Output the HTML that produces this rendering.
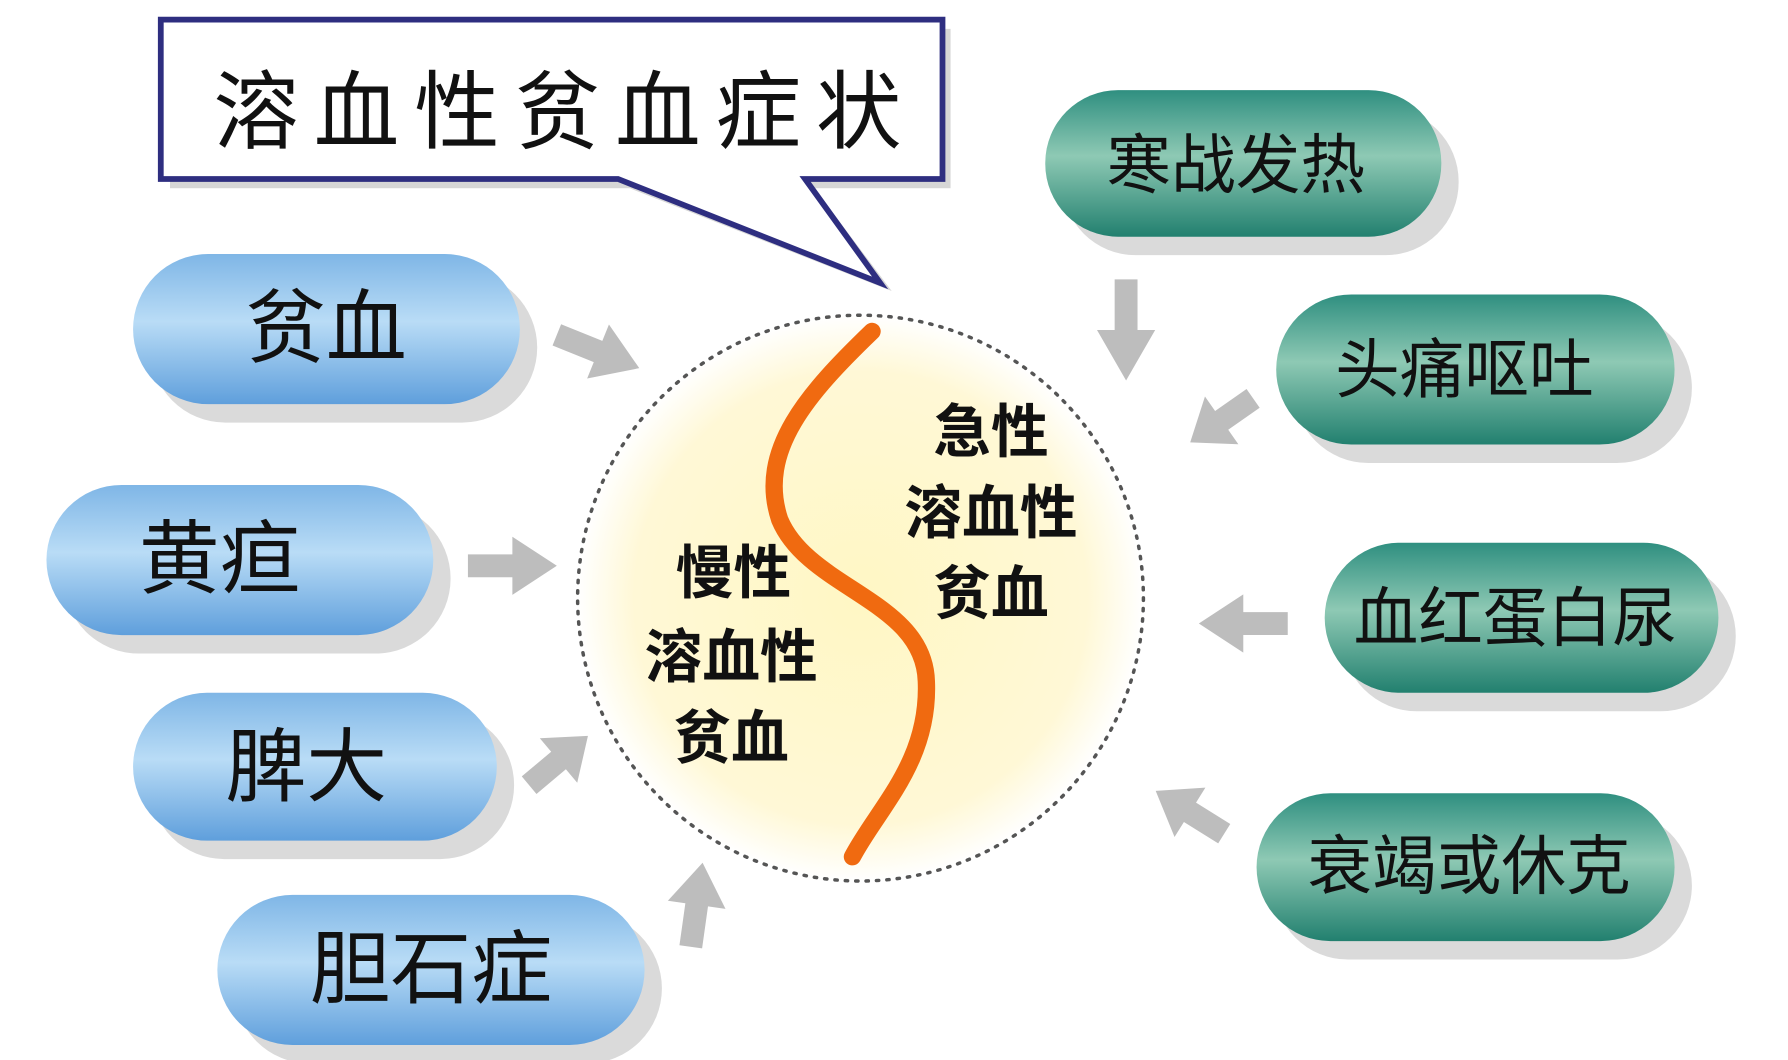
<!DOCTYPE html>
<html><head><meta charset="utf-8"><style>
html,body{margin:0;padding:0;background:#fff;}
svg{display:block;}
text{font-family:"Liberation Sans","Noto Sans CJK SC","WenQuanYi Zen Hei",sans-serif;text-anchor:middle;dominant-baseline:central;fill:#111;}
</style></head><body>
<svg width="1788" height="1060" viewBox="0 0 1548 918" xmlns="http://www.w3.org/2000/svg">
<defs>
<linearGradient id="blue" x1="0" y1="0" x2="0" y2="1">
<stop offset="0" stop-color="#7fb6e6"/><stop offset="0.45" stop-color="#b9dcf6"/><stop offset="1" stop-color="#5f9fdc"/></linearGradient>
<linearGradient id="teal" x1="0" y1="0" x2="0" y2="1">
<stop offset="0" stop-color="#2f8f80"/><stop offset="0.45" stop-color="#8ec9b4"/><stop offset="1" stop-color="#22806f"/></linearGradient>
<radialGradient id="yel" cx="0.5" cy="0.5" r="0.5">
<stop offset="0" stop-color="#fff7c4"/><stop offset="0.8" stop-color="#fff8d6"/><stop offset="1" stop-color="#ffffff"/></radialGradient>
<polygon id="arr" points="0,-11 35,-11 35,-28 70,0 35,28 35,11 0,11" fill="#bdbdbd"/>
</defs>

<rect x="147" y="25" width="676" height="138" fill="#d6d6d6"/>
<polygon points="545,163 705,163 772,252 " fill="#d6d6d6"/>
<polygon points="139,17 816,17 816,155 697,155 762,245 535,155 139,155" fill="#fff" stroke="#2e2e80" stroke-width="5"/>
<text x="489" y="98" font-size="74" letter-spacing="13">溶血性贫血症状</text>

<circle cx="745" cy="518" r="245" fill="url(#yel)" stroke="#555" stroke-width="3" stroke-dasharray="2,7" stroke-linecap="round"/>
<path d="M755,287 C700,340 655,390 675,450 C700,510 800,520 802,590 C805,660 760,700 738,742" fill="none" stroke="#f06a10" stroke-width="15" stroke-linecap="round"/>
<g font-size="50" font-weight="bold">
<text x="635" y="497">慢性</text><text x="633" y="570">溶血性</text><text x="633" y="640">贫血</text>
<text x="858" y="375">急性</text><text x="858" y="445">溶血性</text><text x="858" y="515">贫血</text>
</g>

<g>
<rect x="130" y="236" width="335" height="130" rx="65" fill="#dadada"/>
<rect x="115" y="220" width="335" height="130" rx="65" fill="url(#blue)"/>
<text x="282" y="285" font-size="70">贫血</text>
<rect x="55" y="436" width="335" height="130" rx="65" fill="#dadada"/>
<rect x="40" y="420" width="335" height="130" rx="65" fill="url(#blue)"/>
<text x="190" y="485" font-size="70">黄疸</text>
<rect x="130" y="616" width="315" height="128" rx="64" fill="#dadada"/>
<rect x="115" y="600" width="315" height="128" rx="64" fill="url(#blue)"/>
<text x="265" y="665" font-size="70">脾大</text>
<rect x="203" y="791" width="370" height="130" rx="65" fill="#dadada"/>
<rect x="188" y="775" width="370" height="130" rx="65" fill="url(#blue)"/>
<text x="373" y="840" font-size="70">胆石症</text>
</g>

<g font-size="56">
<rect x="920" y="94" width="343" height="127" rx="63" fill="#dadada"/>
<rect x="905" y="78" width="343" height="127" rx="63" fill="url(#teal)"/>
<text x="1070" y="143">寒战发热</text>
<rect x="1120" y="271" width="345" height="130" rx="65" fill="#dadada"/>
<rect x="1105" y="255" width="345" height="130" rx="65" fill="url(#teal)"/>
<text x="1268" y="320">头痛呕吐</text>
<rect x="1162" y="486" width="341" height="130" rx="65" fill="#dadada"/>
<rect x="1147" y="470" width="341" height="130" rx="65" fill="url(#teal)"/>
<text x="1312" y="535">血红蛋白尿</text>
<rect x="1103" y="703" width="362" height="128" rx="64" fill="#dadada"/>
<rect x="1088" y="687" width="362" height="128" rx="64" fill="url(#teal)"/>
<text x="1272" y="750">衰竭或休克</text>
</g>

<use href="#arr" transform="translate(482,290) rotate(22) scale(1.1,0.9)"/>
<use href="#arr" transform="translate(405,490) scale(1.1,0.9)"/>
<use href="#arr" transform="translate(458,680) rotate(-40) scale(0.95,0.9)"/>
<use href="#arr" transform="translate(598,820) rotate(-82) scale(1.05,0.9)"/>
<use href="#arr" transform="translate(975,242) rotate(90) scale(1.25,0.9)"/>
<use href="#arr" transform="translate(1085,345) rotate(145) scale(0.95,0.9)"/>
<use href="#arr" transform="translate(1115,540) rotate(180) scale(1.1,0.9)"/>
<use href="#arr" transform="translate(1060,722) rotate(212) scale(1.0,0.9)"/>
</svg>
</body></html>
